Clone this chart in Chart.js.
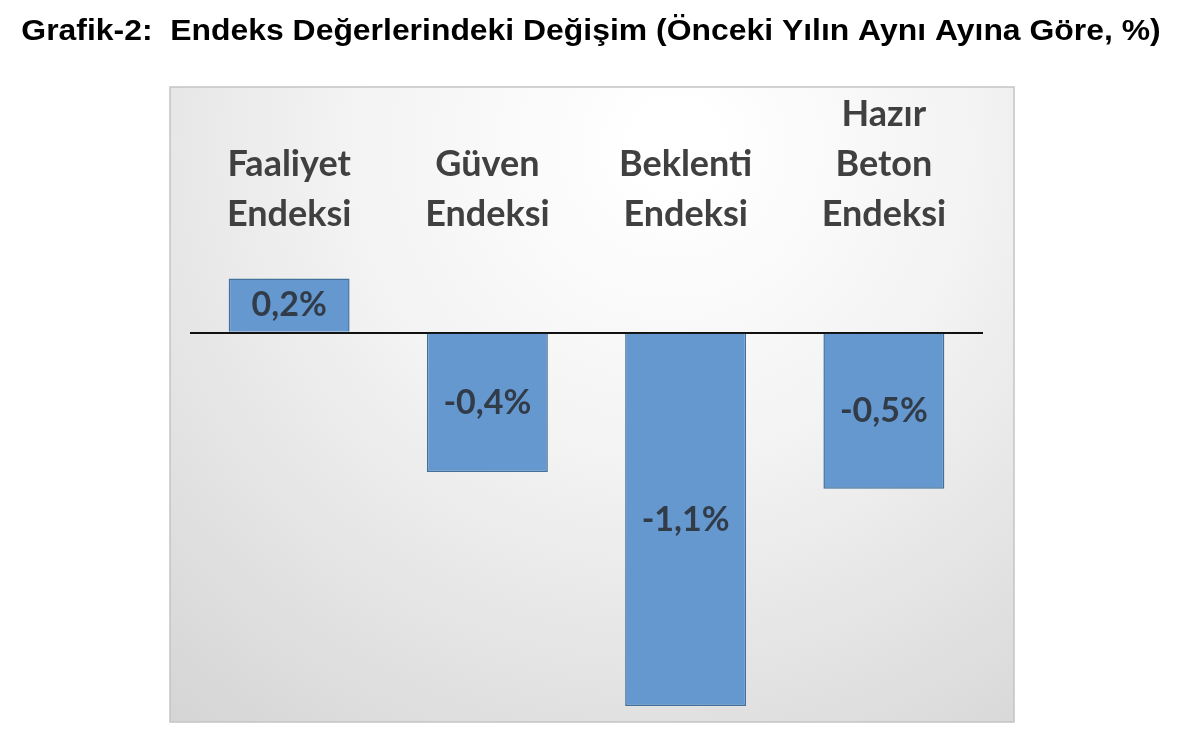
<!DOCTYPE html>
<html>
<head>
<meta charset="utf-8">
<script src="https://cdn.jsdelivr.net/npm/chart.js@4"></script>
<style>
  html, body { margin: 0; padding: 0; background: #fff; }
  #wrap { width: 1200px; height: 738px; }
</style>
</head>
<body>
<div id="wrap"><canvas id="chart"></canvas></div>
<script>
// chart data
const categories = [['Faaliyet', 'Endeksi'], ['Güven', 'Endeksi'], ['Beklenti', 'Endeksi'], ['Hazır', 'Beton', 'Endeksi']];
const changes = [0.16, -0.41, -1.1, -0.46];
const titleText = 'Grafik-2:  Endeks Değerlerindeki Değişim (Önceki Yılın Aynı Ayına Göre, %)';
const yMin = -1.1;
const yMax = 0.25;

const labelFont = 'Lato, "Noto Sans", sans-serif';

// gray gradient panel behind the plot
const panelBackground = {
  id: 'panelBackground',
  beforeDraw(chart) {
    const { ctx, chartArea: a } = chart;
    const x0 = a.left - 20, x1 = a.right + 31;
    const y0 = a.top - 161, y1 = a.bottom + 16;
    ctx.save();
    const g = ctx.createRadialGradient(x0 + (x1 - x0) * 0.6, y0 + 60, 40, x0 + (x1 - x0) * 0.55, y0 + 60, 820);
    g.addColorStop(0, '#ffffff');
    g.addColorStop(0.35, '#f3f3f3');
    g.addColorStop(0.75, '#dddddd');
    g.addColorStop(1, '#cfcfcf');
    ctx.fillStyle = g;
    ctx.fillRect(x0, y0, x1 - x0, y1 - y0);
    ctx.strokeStyle = '#c4c4c4';
    ctx.lineWidth = 1.5;
    ctx.strokeRect(x0, y0, x1 - x0, y1 - y0);
    ctx.restore();
  }
};

// page title across the full width (the built-in title is clipped to the padded box)
// the original heading is a bit stretched sideways, so scale x a little
const pageTitle = {
  id: 'pageTitle',
  afterDraw(chart) {
    const { ctx } = chart;
    ctx.save();
    ctx.translate(chart.width / 2 - 9, 32);
    ctx.scale(1.1, 1);
    ctx.font = 'bold 29px Arial, "Liberation Sans", sans-serif';
    ctx.fillStyle = '#000';
    ctx.textAlign = 'center';
    ctx.textBaseline = 'middle';
    ctx.fillText(titleText, 0, 0);
    ctx.restore();
  }
};

// value labels in the middle of each bar
const barLabels = {
  id: 'barLabels',
  afterDatasetsDraw(chart) {
    const { ctx } = chart;
    const meta = chart.getDatasetMeta(0);
    ctx.save();
    ctx.font = 'bold 34px ' + labelFont;
    ctx.fillStyle = '#323c49';
    ctx.textAlign = 'center';
    ctx.textBaseline = 'middle';
    meta.data.forEach((bar, i) => {
      const txt = changes[i].toFixed(1).replace('.', ',') + '%';
      ctx.fillText(txt, bar.x, (bar.y + bar.base) / 2);
    });
    ctx.restore();
  }
};

const ctx = document.getElementById('chart').getContext('2d');
const chart = new Chart(ctx, {
  type: 'bar',
  data: {
    labels: categories,
    datasets: [{
      data: changes,
      backgroundColor: '#6698d0',
      borderColor: '#41719c',
      borderWidth: 1.5,
      categoryPercentage: 1,
      barPercentage: 0.61
    }]
  },
  options: {
    responsive: true,
    maintainAspectRatio: false,
    animation: false,
    layout: { padding: { left: 190, right: 217, top: 88, bottom: 32 } },
    plugins: {
      legend: { display: false },
      tooltip: { enabled: false },
      title: { display: false }
    },
    scales: {
      x: {
        position: 'top',
        grid: { display: false },
        border: { display: false },
        ticks: {
          color: '#404040',
          font: { family: labelFont, weight: 'bold', size: 36, lineHeight: 50 / 36 },
          padding: 1,
          maxRotation: 0,
          autoSkip: false
        }
      },
      y: {
        min: yMin,
        max: yMax,
        z: 1,
        afterBuildTicks: s => { s.ticks = [{ value: 0 }]; },
        border: { display: false },
        ticks: { display: false },
        grid: { drawTicks: false, color: '#111', lineWidth: 2 }
      }
    }
  },
  plugins: [panelBackground, barLabels, pageTitle]
});
</script>
</body>
</html>
